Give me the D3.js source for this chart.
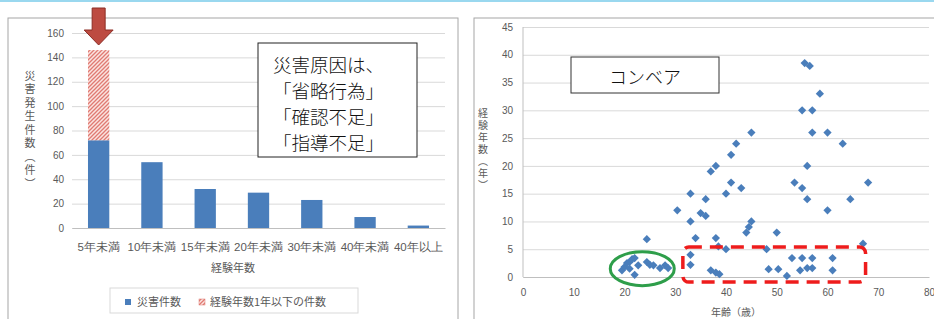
<!DOCTYPE html>
<html>
<head>
<meta charset="utf-8">
<script src="https://cdn.jsdelivr.net/npm/d3@7"></script>
<style>
  body { margin: 0; background: #fff; }
  svg { display: block; font-family: "Noto Sans CJK JP", "Noto Sans", sans-serif; }
  .tick text { fill: #595959; }
</style>
</head>
<body>
<div id="chart"></div>
<script>
// bar chart data
const categories = ["5年未満", "10年未満", "15年未満", "20年未満", "30年未満", "40年未満", "40年以上"];
const disasterCounts = [72, 54, 32, 29, 23, 9, 2];
const under1YearCounts = [74, 0, 0, 0, 0, 0, 0];
const barTicks = [0, 20, 40, 60, 80, 100, 120, 140, 160];
const barLegend = ["災害件数", "経験年数1年以下の件数"];
const causeLines = ["災害原因は、", "「省略行為」", "「確認不足」", "「指導不足」"];

// scatter data: [age, years of experience]
const ages = [19.5, 20, 20.5, 21, 21.5, 22, 22.7, 22, 24.4, 25, 25.7, 27, 28, 28.6, 21,
  24.4, 30.4, 33, 33, 33, 33, 34, 35, 36, 36, 37, 38, 38, 38.5, 40, 37, 38, 38.7,
  40, 41, 43, 41, 42, 45, 45, 44.5, 44, 50, 48, 48.4, 50.3, 52,
  53, 55, 57, 61, 54.6, 56, 57, 61, 53.5, 55, 56, 56,
  55.5, 56.5, 58.5, 55, 57, 57, 60, 63, 60, 64.5, 68, 67];
const years = [1.2, 1.8, 2.5, 2.7, 3.2, 3.4, 2.1, 0.4, 2.7, 2.2, 2.1, 1.6, 2.1, 1.6, 1.5,
  6.8, 12, 15, 10, 4, 2.2, 7, 11.5, 11, 14, 19, 20, 7, 5.5, 5, 1.2, 0.8, 0.5,
  15, 17, 16, 22, 24, 26, 10, 9, 8, 8, 5, 1.4, 1.4, 0.2,
  3.4, 3.4, 3.4, 3.4, 1.2, 1.6, 1.6, 1.2, 17, 16, 14, 20,
  38.5, 38, 33, 30, 30, 26, 26, 24, 12, 14, 17, 6];
const scatterXTicks = [0, 10, 20, 30, 40, 50, 60, 70, 80];
const scatterYTicks = [0, 5, 10, 15, 20, 25, 30, 35, 40, 45];

const width = 934, height = 319;
const svg = d3.select("#chart").append("svg")
  .attr("width", width).attr("height", height);

// hatch pattern
const pat = svg.append("defs").append("pattern")
  .attr("id", "hatch").attr("patternUnits", "userSpaceOnUse")
  .attr("width", 4).attr("height", 4);
pat.append("rect").attr("width", 4).attr("height", 4).attr("fill", "#fbe3e0");
pat.append("path").attr("d", "M-1,1 l2,-2 M0,4 l4,-4 M3,5 l2,-2")
  .attr("stroke", "#e07a72").attr("stroke-width", 1.3);

// top light blue line
svg.append("rect").attr("x", 0).attr("y", 0).attr("width", width).attr("height", 2).attr("fill", "#9ad8ef");

// panel frames
svg.append("rect").attr("x", 8).attr("y", 18).attr("width", 450).attr("height", 310)
  .attr("fill", "#fff").attr("stroke", "#a6a6a6");
svg.append("rect").attr("x", 474).attr("y", 18).attr("width", 470).attr("height", 310)
  .attr("fill", "#fff").attr("stroke", "#a6a6a6");

// ---------- left: bar chart ----------
const bm = { left: 72, right: 445, top: 33, bottom: 228 };
const x = d3.scaleBand().domain(categories).range([bm.left, bm.right]).paddingInner(0.6).paddingOuter(0.3);
const y = d3.scaleLinear().domain([0, 160]).range([bm.bottom, bm.top]);

svg.append("g")
  .attr("transform", `translate(${bm.left},0)`)
  .call(d3.axisLeft(y).tickValues(barTicks).tickSize(-(bm.right - bm.left)).tickPadding(8))
  .call(g => g.select(".domain").remove())
  .call(g => g.selectAll(".tick line").attr("stroke", "#d9d9d9"))
  .call(g => g.selectAll(".tick text").attr("font-size", 10));

svg.append("g")
  .attr("transform", `translate(0,${bm.bottom})`)
  .call(d3.axisBottom(x).tickSize(0).tickPadding(15))
  .call(g => g.select(".domain").attr("stroke", "#bfbfbf"))
  .call(g => g.selectAll(".tick text").attr("font-size", 11.5));

const stacked = categories.map((c, i) => ({ c, a: disasterCounts[i], b: under1YearCounts[i] }));
svg.append("g").selectAll("rect").data(stacked).join("rect")
  .attr("x", d => x(d.c)).attr("width", x.bandwidth())
  .attr("y", d => y(d.a)).attr("height", d => y(0) - y(d.a))
  .attr("fill", "#4a7ebb");
svg.append("g").selectAll("rect").data(stacked.filter(d => d.b > 0)).join("rect")
  .attr("x", d => x(d.c)).attr("width", x.bandwidth())
  .attr("y", d => y(d.a + d.b)).attr("height", d => y(d.a) - y(d.a + d.b))
  .attr("fill", "url(#hatch)");

// y title (vertical)
svg.append("text")
  .attr("x", 30).attr("y", 70)
  .attr("font-size", 11).attr("fill", "#595959")
  .style("writing-mode", "vertical-rl").style("letter-spacing", "2.5px")
  .text("災害発生件数（件）");

svg.append("text").attr("x", 233).attr("y", 272).attr("text-anchor", "middle")
  .attr("font-size", 11).attr("fill", "#595959").text("経験年数");

// legend
svg.append("rect").attr("x", 110).attr("y", 288).attr("width", 248).attr("height", 25)
  .attr("fill", "none").attr("stroke", "#d9d9d9");
svg.append("rect").attr("x", 125).attr("y", 299).attr("width", 6).attr("height", 6).attr("fill", "#4a7ebb");
svg.append("text").attr("x", 137).attr("y", 306).attr("font-size", 11).attr("fill", "#595959").text(barLegend[0]);
svg.append("rect").attr("x", 199).attr("y", 299).attr("width", 6).attr("height", 6)
  .attr("fill", "url(#hatch)").attr("stroke", "#e07a72").attr("stroke-width", 0.5);
svg.append("text").attr("x", 210).attr("y", 306).attr("font-size", 11).attr("fill", "#595959").text(barLegend[1]);

// annotation box
svg.append("rect").attr("x", 258).attr("y", 43).attr("width", 159).attr("height", 114)
  .attr("fill", "#fff").attr("stroke", "#222");
svg.append("g").selectAll("text").data(causeLines).join("text")
  .attr("x", 273).attr("y", (d, i) => 72 + i * 26)
  .attr("font-size", 18.5).attr("font-weight", 300).attr("fill", "#111").text(d => d);

// red arrow over first bar
const ax = x(categories[0]) + x.bandwidth() / 2;
svg.append("path")
  .attr("d", `M${ax - 6.5},8 h13 v22 h8 l-14.5,15 l-14.5,-15 h8 z`)
  .attr("fill", "#bd4b41").attr("stroke", "#8c2d25").attr("stroke-width", 1);

// ---------- right: scatter ----------
const sm = { left: 523, right: 929, top: 27, bottom: 277 };
const sx = d3.scaleLinear().domain([0, 80]).range([sm.left, sm.right]);
const sy = d3.scaleLinear().domain([0, 45]).range([sm.bottom, sm.top]);

svg.append("g")
  .attr("transform", `translate(${sm.left},0)`)
  .call(d3.axisLeft(sy).tickValues(scatterYTicks).tickSize(-(sm.right - sm.left)).tickPadding(10))
  .call(g => g.select(".domain").remove())
  .call(g => g.selectAll(".tick line").attr("stroke", "#d9d9d9"))
  .call(g => g.selectAll(".tick text").attr("font-size", 10));

svg.append("g")
  .attr("transform", `translate(0,${sm.bottom})`)
  .call(d3.axisBottom(sx).tickValues(scatterXTicks).tickSize(0).tickPadding(12))
  .call(g => g.select(".domain").attr("stroke", "#bfbfbf"))
  .call(g => g.selectAll(".tick text").attr("font-size", 10));

svg.append("line").attr("x1", sm.left).attr("x2", sm.left).attr("y1", sm.top).attr("y2", sm.bottom)
  .attr("stroke", "#bfbfbf");

svg.append("text")
  .attr("x", 483).attr("y", 108)
  .attr("font-size", 10).attr("fill", "#595959")
  .style("writing-mode", "vertical-rl").style("letter-spacing", "2px")
  .text("経験年数（年）");
svg.append("text").attr("x", 736).attr("y", 316).attr("text-anchor", "middle")
  .attr("font-size", 10).attr("fill", "#595959").text("年齢（歳）");

const pts = ages.map((a, i) => [a, years[i]]);
const diamond = d3.symbol().type(d3.symbolSquare).size(34);
svg.append("g").selectAll("path").data(pts).join("path")
  .attr("d", diamond)
  .attr("transform", d => `translate(${sx(d[0])},${sy(d[1])}) rotate(45)`)
  .attr("fill", "#4a7ebb");

// label box
svg.append("rect").attr("x", 571).attr("y", 57).attr("width", 148).attr("height", 36)
  .attr("fill", "#fff").attr("stroke", "#333");
svg.append("text").attr("x", 645).attr("y", 84).attr("text-anchor", "middle")
  .attr("font-size", 18).attr("font-weight", 300).attr("fill", "#111").text("コンベア");

// green ellipse around young workers
svg.append("ellipse").attr("cx", sx(23.5)).attr("cy", sy(1.5)).attr("rx", 32).attr("ry", 17)
  .attr("fill", "none").attr("stroke", "#2e9e4a").attr("stroke-width", 3);

// red dashed box
svg.append("rect")
  .attr("x", sx(31.5)).attr("y", sy(5.4))
  .attr("width", sx(67.5) - sx(31.5)).attr("height", sy(-0.9) - sy(5.4))
  .attr("rx", 6)
  .attr("fill", "none").attr("stroke", "#ee1c1c").attr("stroke-width", 3.5)
  .attr("stroke-dasharray", "13,8");
</script>
</body>
</html>
